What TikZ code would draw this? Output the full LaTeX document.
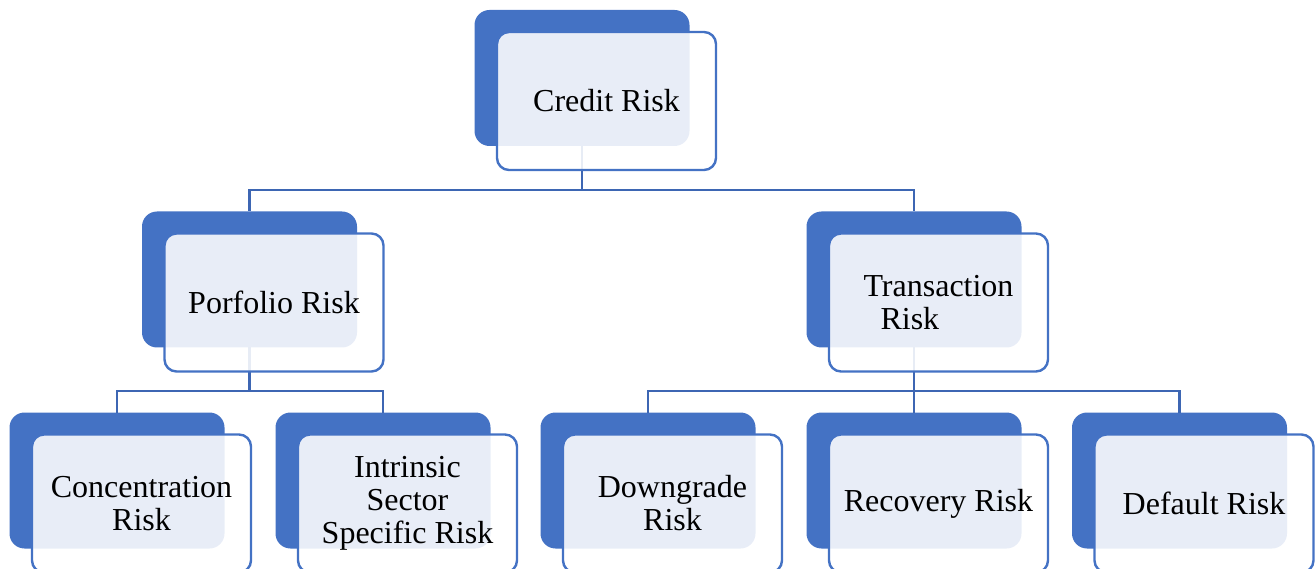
\documentclass[tikz,border=0pt]{standalone}
\usepackage{fontspec}
\setmainfont{Liberation Serif}
\definecolor{accent}{HTML}{4472C4}
\definecolor{conn}{HTML}{3D66B3}
\begin{document}
\begin{tikzpicture}[x=1pt,y=-1pt,
  backbox/.style={draw=none, fill=accent, rounded corners=15pt,
    minimum width=215pt, minimum height=136pt, inner sep=0pt, outer sep=0pt},
  frontbox/.style={draw=accent, line width=2.4pt, fill=white, fill opacity=0.88,
    text opacity=1, rounded corners=12pt, minimum width=219pt, minimum height=138pt,
    inner sep=0pt, outer sep=0pt, align=center,
    font=\fontsize{32}{33}\selectfont},
  link/.style={draw=conn, line width=2.8pt}]
\useasboundingbox (0,0) rectangle (1315,569);
\clip (0,0) rectangle (1315,569);
% back boxes
\node[backbox] (cb) at (582,78) {};
\node[backbox] (pb) at (249.5,279.5) {};
\node[backbox] (tb) at (914,279.5) {};
\node[backbox] (b1) at (117,480.5) {};
\node[backbox] (b2) at (383,480.5) {};
\node[backbox] (b3) at (648,480.5) {};
\node[backbox] (b4) at (914,480.5) {};
\node[backbox] (b5) at (1179.5,480.5) {};
% connectors
\coordinate (j0) at (582,190);
\coordinate (j1) at (249.5,391);
\coordinate (j2) at (914,391);
\draw[link] (cb.south) -- (j0);
\draw[link] (j0) -| (pb.north);
\draw[link] (j0) -| (tb.north);
\draw[link] (pb.south) -- (j1);
\draw[link] (j1) -| (b1.north);
\draw[link] (j1) -| (b2.north);
\draw[link] (tb.south) -- (j2);
\draw[link] (j2) -| (b3.north);
\draw[link] (j2) -- (b4.north);
\draw[link] (j2) -| (b5.north);
% front boxes
\node[frontbox] (cf) at (606.5,101) {Credit Risk};
\node[frontbox] (pf) at (274,302.5) {Porfolio Risk};
\node[frontbox, align=left] (tf) at (938.5,302.5) {Transaction\\\hspace*{17pt}Risk};
\node[frontbox] (f1) at (141.5,503.5) {Concentration\\Risk};
\node[frontbox] (f2) at (407.5,503.5) {Intrinsic\\Sector\\Specific Risk};
\node[frontbox] (f3) at (672.5,503.5) {Downgrade\\Risk};
\node[frontbox] (f4) at (938.5,503.5) {Recovery Risk};
\node[frontbox] (f5) at (1204,503.5) {Default Risk};
\end{tikzpicture}
\end{document}
